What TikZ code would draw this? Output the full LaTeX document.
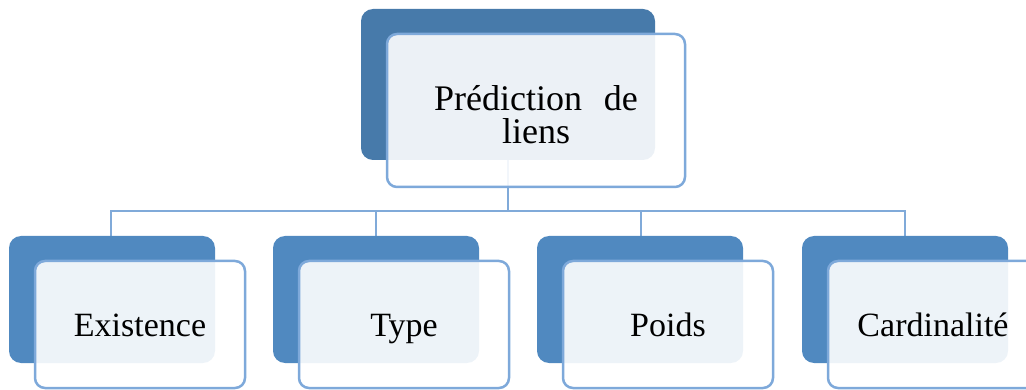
\documentclass[tikz,border=0pt]{standalone}
\usepackage{fontspec}
\setmainfont{Liberation Serif}
\definecolor{topblue}{HTML}{477AAA}
\definecolor{childblue}{HTML}{5089C0}
\definecolor{edgeblue}{HTML}{7EA9DA}
\definecolor{wireblue}{HTML}{80AAD9}
\begin{document}
\begin{tikzpicture}[x=1pt,y=-1pt,
  backcard/.style={fill=#1, draw=none, rounded corners=12pt},
  frontcard/.style={fill=white, fill opacity=0.9, draw=edgeblue, line width=2.5pt, rounded corners=10pt},
  wire/.style={draw=wireblue, line width=2.6pt},
  toplabel/.style={font=\fontsize{36}{33}\selectfont, align=center, text=black},
  label/.style={font=\fontsize{34}{36}\selectfont, text=black}]
\useasboundingbox (0,0) rectangle (1026,390);
\begin{scope}
\clip (0,0) rectangle (1026,390);
% hub coordinates
\coordinate (hubTop) at (508,160);
\coordinate (hubBar) at (508,211);
% connectors, drawn first so the cards sit on top of them
\foreach \x/\n in {111/a,376/b,641/c,905/d}{
  \coordinate (drop\n) at (\x,236);
}
\draw[wire] (hubTop) -- (hubBar);
\draw[wire] (dropa) |- (hubBar) -| (dropd);
\draw[wire] (dropb) -- (dropb |- hubBar);
\draw[wire] (dropc) -- (dropc |- hubBar);
% root card
\path[backcard=topblue] (361,9) rectangle (655,160);
\path[frontcard] (387,34) rectangle (685,187);
\node[toplabel] (root) at (536,115) {Prédiction\hspace{0.6em}de\\liens};
% child cards
\foreach \x/\t/\n in {9/Existence/ex,273/Type/ty,537/Poids/po,802/Cardinalité/ca}{
  \path[backcard=childblue] (\x,236) rectangle ++(206,127);
  \path[frontcard] (\x+26,261) rectangle ++(210,127);
  \node[label, anchor=base] (\n) at (\x+131,336) {\t};
}
\end{scope}
\end{tikzpicture}
\end{document}
